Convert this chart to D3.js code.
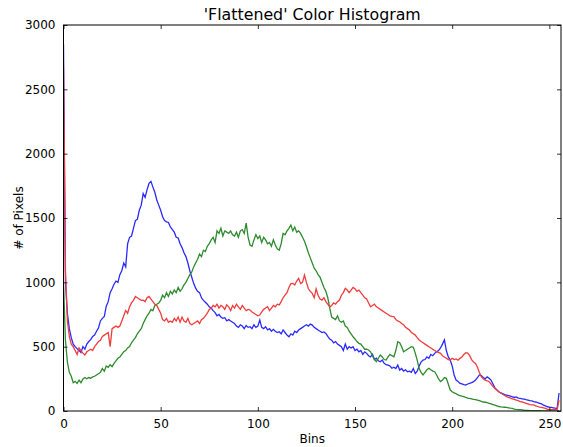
<!DOCTYPE html>
<html>
<head>
<meta charset="utf-8">
<script src="https://cdn.jsdelivr.net/npm/d3@7"></script>
<style>
  body { margin: 0; background: #fff; }
  text { font-family: "DejaVu Sans", sans-serif; fill: #000; }
</style>
</head>
<body>
<div id="chart"></div>
<script>
// histogram counts per bin
var blue = [
  2850, 1000, 760, 640, 570, 520, 500, 485, 470, 455, 500, 480, 520, 540, 555, 580,
  590, 620, 645, 700, 720, 735, 815, 850, 920, 950, 985, 1010, 1000, 1060, 1090, 1150,
  1120, 1300, 1350, 1360, 1420, 1480, 1490, 1560, 1600, 1690, 1660, 1720, 1770, 1785, 1740, 1700,
  1640, 1600, 1560, 1510, 1480, 1470, 1465, 1430, 1410, 1390, 1350, 1345, 1300, 1270, 1230, 1200,
  1150, 1090, 1040, 990, 955, 930, 920, 880, 860, 845, 830, 810, 800, 780, 765, 740,
  750, 730, 720, 725, 700, 710, 700, 690, 680, 660, 650, 670, 660, 640, 665, 650,
  655, 640, 670, 650, 660, 707, 650, 640, 655, 630, 640, 620, 635, 620, 610, 616,
  600, 630, 610, 590, 577, 600, 590, 620, 610, 629, 640, 650, 660, 670, 660, 675,
  668, 650, 640, 630, 620, 610, 615, 603, 580, 560, 550, 530, 540, 520, 510, 500,
  470, 520, 480, 500, 490, 500, 470, 480, 460, 470, 440, 460, 448, 430, 420, 440,
  400, 410, 390, 383, 396, 370, 360, 357, 350, 332, 340, 330, 357, 318, 330, 310,
  320, 305, 310, 300, 330, 292, 310, 350, 380, 396, 400, 420, 410, 440, 430, 448,
  460, 470, 490, 520, 552, 470, 420, 396, 350, 280, 241, 230, 215, 210, 205, 202,
  210, 215, 220, 228, 240, 260, 280, 275, 260, 250, 265, 254, 240, 210, 180, 163,
  150, 140, 135, 128, 124, 120, 115, 110, 105, 110, 100, 98, 95, 92, 88, 85,
  80, 78, 73, 70, 65, 60, 55, 45, 40, 33, 30, 28, 25, 22, 20, 140
]
var green = [
  1000, 550, 380, 300, 270, 220, 230, 215, 240, 220, 250, 260, 250, 260, 255, 265,
  270, 280, 290, 300, 330, 310, 350, 340, 360, 345, 370, 390, 410, 420, 440, 460,
  470, 490, 500, 530, 550, 570, 600, 620, 640, 680, 710, 740, 760, 790, 780, 820,
  830, 840, 860, 900, 880, 920, 890, 930, 910, 940, 920, 960, 930, 950, 980, 1000,
  1030, 1060, 1080, 1120, 1150, 1180, 1220, 1200, 1250, 1240, 1280, 1300, 1330, 1350, 1310, 1400,
  1380, 1420, 1360, 1400, 1390, 1380, 1400, 1370, 1360, 1390, 1350, 1400, 1410, 1380, 1460, 1350,
  1290, 1280, 1330, 1370, 1340, 1360, 1310, 1350, 1330, 1300, 1310, 1280, 1330, 1290, 1260, 1250,
  1300, 1380, 1370, 1400, 1420, 1445, 1400, 1430, 1390, 1400, 1380, 1350, 1320, 1277, 1230, 1190,
  1150, 1110, 1090, 1060, 1040, 1000, 960, 930, 880, 800, 730, 720, 710, 740, 700, 690,
  700, 660, 650, 620, 600, 577, 560, 540, 526, 520, 500, 480, 480, 474, 460, 430,
  400, 383, 410, 435, 420, 400, 396, 420, 440, 430, 422, 470, 539, 530, 500, 461,
  470, 480, 490, 500, 495, 450, 396, 330, 300, 280, 300, 320, 332, 320, 310, 305,
  280, 250, 228, 240, 260, 254, 210, 163, 150, 140, 135, 125, 120, 115, 111, 105,
  100, 98, 95, 90, 88, 85, 80, 75, 70, 68, 65, 60, 55, 50, 45, 40,
  35, 32, 30, 29, 28, 25, 22, 20, 15, 12, 10, 10, 8, 6, 5, 4,
  3, 3, 3, 2, 2, 2, 1, 1, 1, 1, 1, 1, 0, 0, 0, 5
]
var red = [
  2670, 1100, 700, 580, 520, 500, 470, 440, 490, 470, 450, 435, 460, 470, 480, 470,
  500, 520, 540, 550, 580, 590, 600, 610, 500, 640, 650, 660, 650, 660, 700, 740,
  780, 760, 810, 840, 860, 890, 880, 870, 860, 862, 850, 880, 890, 870, 850, 830,
  820, 790, 760, 710, 700, 720, 690, 700, 690, 720, 700, 730, 690, 730, 700, 690,
  720, 680, 670, 680, 690, 700, 680, 710, 720, 740, 760, 790, 800, 820, 810, 830,
  800, 820, 810, 790, 825, 810, 780, 820, 800, 830, 810, 790, 820, 800, 780, 790,
  785, 770, 760, 750, 740, 746, 770, 790, 800, 810, 780, 800, 820, 810, 830, 824,
  850, 880, 900, 920, 960, 990, 992, 980, 1010, 1031, 990, 1000, 1057, 1000, 950, 930,
  914, 880, 950, 900, 870, 862, 880, 850, 830, 810, 820, 840, 830, 850, 862, 900,
  920, 953, 940, 920, 940, 960, 950, 930, 940, 920, 900, 880, 870, 840, 810, 820,
  830, 810, 800, 790, 780, 770, 760, 750, 740, 735, 733, 710, 700, 694, 680, 670,
  650, 640, 629, 610, 600, 590, 570, 552, 540, 530, 520, 510, 500, 490, 480, 470,
  460, 455, 448, 430, 420, 410, 400, 396, 410, 400, 405, 395, 409, 420, 440, 453,
  450, 430, 400, 380, 370, 340, 300, 267, 250, 240, 235, 228, 210, 190, 175, 163,
  150, 140, 130, 120, 111, 105, 100, 95, 90, 85, 80, 73, 70, 65, 60, 55,
  50, 48, 47, 40, 35, 30, 28, 25, 20, 13, 12, 11, 10, 10, 10, 85
]
var xTicks = [0, 50, 100, 150, 200, 250]
var yTicks = [0, 500, 1000, 1500, 2000, 2500, 3000]

var margin = { top: 25, left: 63.5, right: 2, bottom: 36 }
var width = 563 - margin.left - margin.right
var height = 447 - margin.top - margin.bottom

var svg = d3.select('#chart')
  .append('svg')
  .attr('width', 563)
  .attr('height', 447)
  .append('g')
  .attr('transform', 'translate(' + margin.left + ',' + margin.top + ')')

var x = d3.scaleLinear().domain([0, 256]).range([0, width])
var y = d3.scaleLinear().domain([0, 3000]).range([height, 0])

var line = d3.line()
  .x((d, i) => x(i))
  .y(d => y(d))

var series = [
  { values: blue, color: '#2a2aff' },
  { values: green, color: '#2e8b2e' },
  { values: red, color: '#f03c3c' }
]

svg.append('defs').append('clipPath').attr('id', 'clip')
  .append('rect').attr('width', width).attr('height', height)

svg.append('g')
  .attr('clip-path', 'url(#clip)')
  .selectAll('path')
  .data(series)
  .enter()
  .append('path')
  .attr('d', d => line(d.values))
  .attr('fill', 'none')
  .attr('stroke', d => d.color)
  .attr('stroke-width', 1.3)

// inward ticks on all sides, like old matplotlib
function styleAxis(g) {
  g.select('.domain').remove()
  g.selectAll('line').attr('stroke', '#000').attr('stroke-width', 0.8)
  g.selectAll('text').style('font-size', '12px').style('font-family', '"DejaVu Sans", sans-serif')
}

var fmt = d3.format('d')

svg.append('g')
  .attr('transform', 'translate(0,' + height + ')')
  .call(d3.axisBottom(x).tickValues(xTicks).tickSize(-4).tickPadding(8).tickFormat(fmt))
  .call(styleAxis)

svg.append('g')
  .call(d3.axisTop(x).tickValues(xTicks).tickSize(-4).tickFormat(''))
  .call(styleAxis)

svg.append('g')
  .call(d3.axisLeft(y).tickValues(yTicks).tickSize(-4).tickPadding(8).tickFormat(fmt))
  .call(styleAxis)

svg.append('g')
  .attr('transform', 'translate(' + width + ',0)')
  .call(d3.axisRight(y).tickValues(yTicks).tickSize(-4).tickFormat(''))
  .call(styleAxis)

svg.append('rect')
  .attr('width', width)
  .attr('height', height)
  .attr('fill', 'none')
  .attr('stroke', '#000')
  .attr('stroke-width', 1)

svg.append('text')
  .attr('x', width / 2)
  .attr('y', -5)
  .attr('text-anchor', 'middle')
  .style('font-size', '15.8px')
  .text("'Flattened' Color Histogram")

svg.append('text')
  .attr('x', width / 2)
  .attr('y', height + 32)
  .attr('text-anchor', 'middle')
  .style('font-size', '12px')
  .text('Bins')

svg.append('text')
  .attr('transform', 'translate(' + (-41) + ',' + (height / 2) + ') rotate(-90)')
  .attr('text-anchor', 'middle')
  .style('font-size', '12px')
  .text('# of Pixels')
</script>
</body>
</html>
